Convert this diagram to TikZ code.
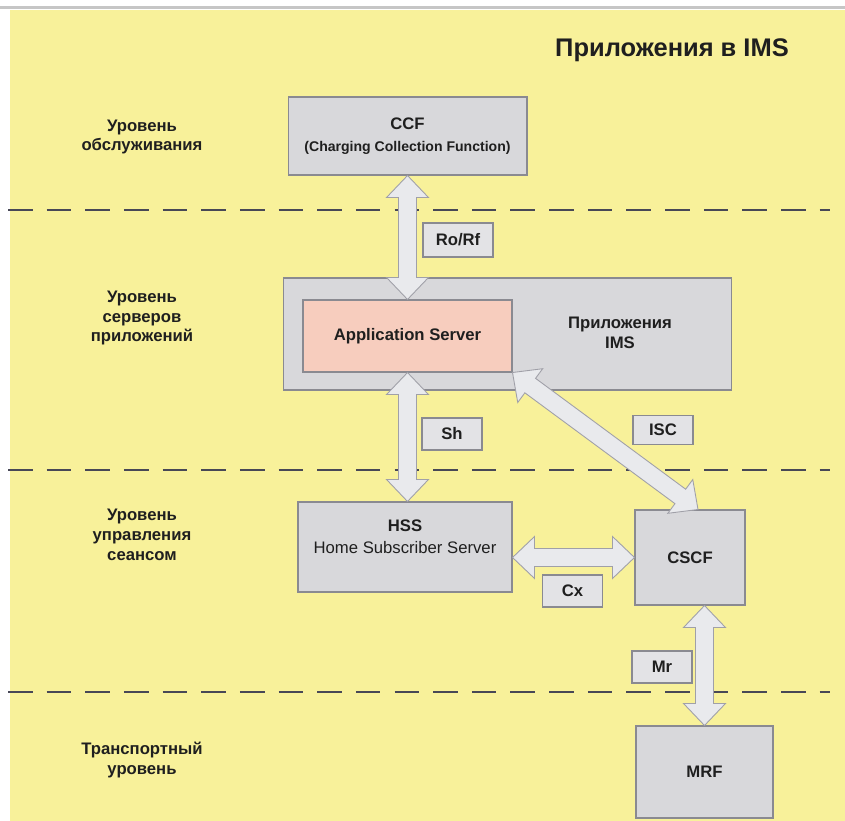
\documentclass[tikz,border=0pt]{standalone}
\usepackage{fontspec}
\setmainfont{Liberation Sans}
\usepackage{tikz}
\usetikzlibrary{calc,positioning}
\definecolor{bgyellow}{RGB}{248,241,154}
\definecolor{boxgray}{RGB}{216,216,219}
\definecolor{boxline}{RGB}{138,138,145}
\definecolor{aspink}{RGB}{247,205,190}
\definecolor{arrowfill}{RGB}{233,234,237}
\definecolor{arrowline}{RGB}{160,160,168}
\definecolor{dashcol}{RGB}{72,72,86}
\definecolor{tagfill}{RGB}{227,227,230}
\tikzset{
    every node/.style={font=\fontsize{9.5}{11.3}\selectfont\bfseries,text=black!88},
    blockbox/.style={draw=boxline,fill=boxgray,line width=0.6pt,inner sep=0pt},
    tagbox/.style={draw=boxline,fill=tagfill,line width=0.6pt,inner sep=0pt,minimum width=1.2cm,minimum height=0.64cm},
    levelline/.style={dashcol,line width=1.4pt,dash pattern=on 14pt off 8pt},
    bigarrow/.style={draw=arrowline,fill=arrowfill,line width=0.5pt,line join=miter},
    levellabel/.style={align=center}
}
\newcommand{\arrhl}{0.44cm}
\newcommand{\arrhw}{0.42cm}
\newcommand{\arrsw}{0.18cm}
% fat double arrow between two named points
\newcommand{\dblarrow}[2]{%
  \coordinate (fa) at ($(#1)!\arrhl!(#2)$);
  \coordinate (fb) at ($(#2)!\arrhl!(#1)$);
  \draw[bigarrow] (#1)
    -- ($(fa)!\arrhw!90:(#2)$) -- ($(fa)!\arrsw!90:(#2)$)
    -- ($(fb)!\arrsw!-90:(#1)$) -- ($(fb)!\arrhw!-90:(#1)$)
    -- (#2)
    -- ($(fb)!\arrhw!90:(#1)$) -- ($(fb)!\arrsw!90:(#1)$)
    -- ($(fa)!\arrsw!-90:(#2)$) -- ($(fa)!\arrhw!-90:(#2)$)
    -- cycle;}

\begin{document}
\begin{tikzpicture}[x=0.02cm,y=-0.02cm]
  \useasboundingbox (0,0) rectangle (845,821);
  \fill[white] (0,0) rectangle (845,821);
  \fill[gray!45] (0,6) rectangle (845,9.5);
  \fill[bgyellow] (10,10) rectangle (845,821);
  \node[font=\fontsize{14.5}{16}\selectfont\bfseries] (title) at (672,50) {Приложения в IMS};
  % levels
  \foreach \y in {210,470,692}{\draw[levelline] (8,\y) -- (830,\y);}
  \foreach \y/\txt [count=\i] in {137/{Уровень\\обслуживания},318/{Уровень\\серверов\\приложений},535/{Уровень\\управления\\сеансом},760/{Транспортный\\уровень}}
    {\node[levellabel] (level\i) at (142,\y) {\txt};}
  % blocks
  \node[blockbox,minimum width=4.78cm,minimum height=1.56cm,align=center] (ccf) at (407.5,136)
    {CCF\\[1pt]{\fontsize{8}{10}\selectfont(Charging Collection Function)}};
  \node[blockbox,minimum width=8.98cm,minimum height=2.24cm] (ims) at (507.5,334) {};
  \node[blockbox,fill=aspink,minimum width=4.18cm,minimum height=1.44cm] (as) at (407.5,336) {Application Server};
  \node[align=center] (imstext) at (620,333) {Приложения\\IMS};
  \node[blockbox,minimum width=4.28cm,minimum height=1.8cm] (hss) at (405,547) {};
  \node[align=center,font=\fontsize{9.5}{12.5}\selectfont] (hsstext) at (405,537) {\textbf{HSS}\\Home Subscriber Server};
  \node[blockbox,minimum width=2.2cm,minimum height=1.9cm] (cscf) at (690,557.5) {CSCF};
  \node[blockbox,minimum width=2.74cm,minimum height=1.84cm] (mrf) at (704.5,772) {MRF};
  % interface tags
  \node[tagbox,minimum width=1.4cm,minimum height=0.68cm] (rorf) at (458,240) {Ro/Rf};
  \node[tagbox] (sh) at (452,434) {Sh};
  \node[tagbox,minimum height=0.58cm] (isc) at (663,430) {ISC};
  \node[tagbox] (cx) at (572.5,591) {Cx};
  \node[tagbox] (mr) at (662,667) {Mr};
  % interfaces
  \coordinate (shend) at (as.south |- hss.north);
  \coordinate (iscend) at ($(cscf.north)+(8,0)$);
  \coordinate (cxstart) at (hss.east |- cscf.west);
  \coordinate (mrstart) at (mrf.north |- cscf.south);
  \dblarrow{ccf.south}{as.north}
  \dblarrow{as.south}{shend}
  \dblarrow{as.south east}{iscend}
  \dblarrow{cxstart}{cscf.west}
  \dblarrow{mrstart}{mrf.north}
\end{tikzpicture}
\end{document}
